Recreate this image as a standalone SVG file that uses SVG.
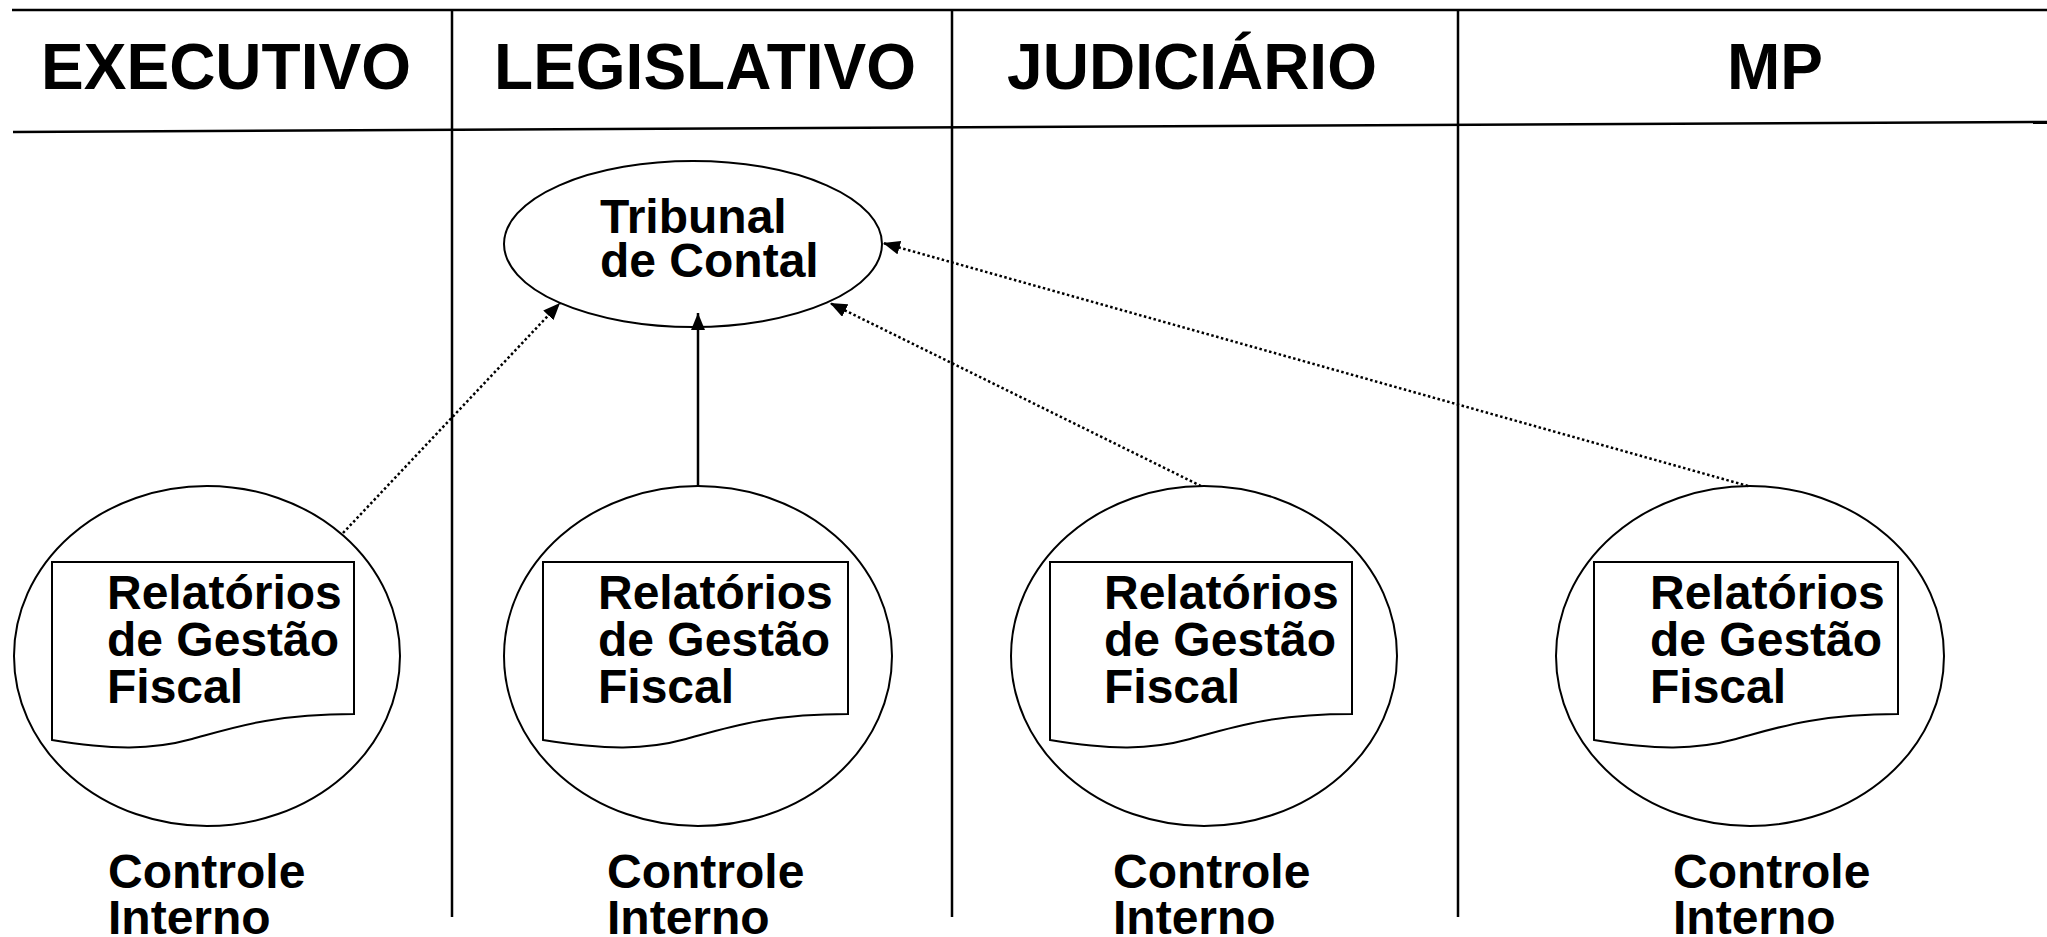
<svg xmlns="http://www.w3.org/2000/svg" width="2047" height="937" viewBox="0 0 2047 937">
<style>
.hdr{font-family:"Liberation Sans",Arial,sans-serif;font-weight:bold;font-size:64px;fill:#000;text-anchor:middle}
.lbl{font-family:"Liberation Sans",Arial,sans-serif;font-weight:bold;font-size:48px;fill:#000}
.shape{fill:#fff;stroke:#000;stroke-width:2}
.rule{stroke:#000;stroke-width:2.5;fill:none}
.solid{stroke:#000;stroke-width:2.5;fill:none}
.dot{stroke:#000;stroke-width:2.5;fill:none;stroke-dasharray:2.5 2.5}
</style>
<defs>
<marker id="arr" markerUnits="userSpaceOnUse" markerWidth="18" markerHeight="14" refX="17" refY="7" orient="auto">
<path d="M0,0 L17,7 L0,14 z" fill="#000"/>
</marker>
</defs>
<rect width="2047" height="937" fill="#fff"/>
<g id="grid">
<line class="rule" x1="12" y1="10" x2="2047" y2="10"/>
<line class="rule" x1="13" y1="132" x2="2047" y2="122"/>
<line class="rule" x1="452" y1="10" x2="452" y2="917"/>
<line class="rule" x1="952" y1="10" x2="952" y2="917"/>
<line class="rule" x1="1458" y1="10" x2="1458" y2="917"/>
</g>
<g id="headers">
<text class="hdr" x="226" y="89">EXECUTIVO</text>
<text class="hdr" x="705" y="89">LEGISLATIVO</text>
<text class="hdr" x="1192" y="89">JUDICIÁRIO</text>
<text class="hdr" x="1775" y="89">MP</text>
</g>
<g id="tribunal">
<ellipse class="shape" cx="693" cy="244" rx="189" ry="83"/>
<text class="lbl" x="600" y="233">Tribunal</text>
<text class="lbl" x="600" y="277">de Contal</text>
</g>
<g id="ci-executivo">
<ellipse class="shape" cx="207" cy="656" rx="193" ry="170"/>
<path class="shape" d="M52,562 H354 V714 C272,714 232,728 192,739 C152,750 112,750 52,740 Z"/>
<text class="lbl" x="107" y="609">Relatórios</text>
<text class="lbl" x="107" y="656">de Gestão</text>
<text class="lbl" x="107" y="703">Fiscal</text>
<text class="lbl" x="108" y="888">Controle</text>
<text class="lbl" x="108" y="934">Interno</text>
</g>
<g id="ci-legislativo">
<ellipse class="shape" cx="698" cy="656" rx="194" ry="170"/>
<path class="shape" d="M543,562 H848 V714 C766,714 726,728 686,739 C646,750 606,750 543,740 Z"/>
<text class="lbl" x="598" y="609">Relatórios</text>
<text class="lbl" x="598" y="656">de Gestão</text>
<text class="lbl" x="598" y="703">Fiscal</text>
<text class="lbl" x="607" y="888">Controle</text>
<text class="lbl" x="607" y="934">Interno</text>
</g>
<g id="ci-judiciario">
<ellipse class="shape" cx="1204" cy="656" rx="193" ry="170"/>
<path class="shape" d="M1050,562 H1352 V714 C1270,714 1230,728 1190,739 C1150,750 1110,750 1050,740 Z"/>
<text class="lbl" x="1104" y="609">Relatórios</text>
<text class="lbl" x="1104" y="656">de Gestão</text>
<text class="lbl" x="1104" y="703">Fiscal</text>
<text class="lbl" x="1113" y="888">Controle</text>
<text class="lbl" x="1113" y="934">Interno</text>
</g>
<g id="ci-mp">
<ellipse class="shape" cx="1750" cy="656" rx="194" ry="170"/>
<path class="shape" d="M1594,562 H1898 V714 C1816,714 1776,728 1736,739 C1696,750 1656,750 1594,740 Z"/>
<text class="lbl" x="1650" y="609">Relatórios</text>
<text class="lbl" x="1650" y="656">de Gestão</text>
<text class="lbl" x="1650" y="703">Fiscal</text>
<text class="lbl" x="1673" y="888">Controle</text>
<text class="lbl" x="1673" y="934">Interno</text>
</g>
<g id="connectors">
<line class="dot" x1="343" y1="533" x2="560" y2="303" marker-end="url(#arr)"/>
<line class="solid" x1="698" y1="486" x2="698" y2="313" marker-end="url(#arr)"/>
<line class="dot" x1="1201" y1="486" x2="830" y2="303" marker-end="url(#arr)"/>
<line class="dot" x1="1748" y1="486" x2="883" y2="243" marker-end="url(#arr)"/>
</g>
</svg>
